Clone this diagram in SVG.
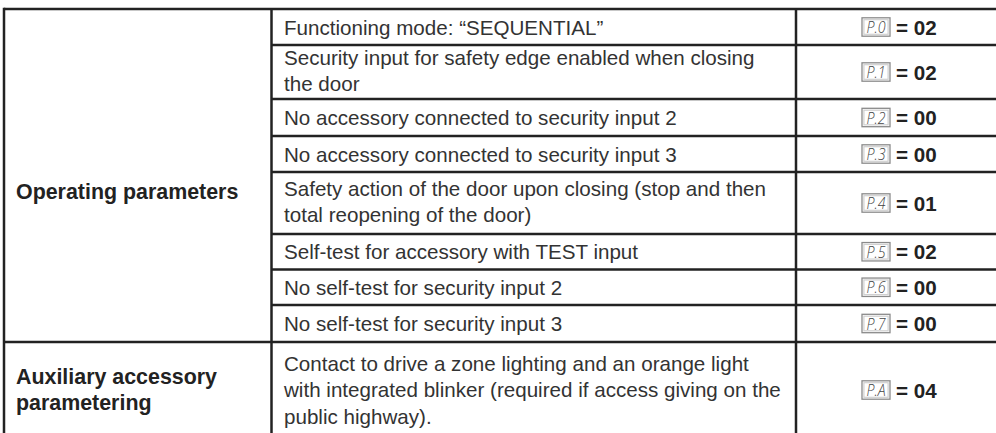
<svg xmlns="http://www.w3.org/2000/svg" width="996" height="433" viewBox="0 0 996 433">
<style>
.ln{stroke:#222;stroke-width:2.5;fill:none}
.t{font-family:"Liberation Sans",Arial,sans-serif;font-size:20.6px;fill:#333}
.b{font-family:"Liberation Sans",Arial,sans-serif;font-size:20.6px;font-weight:bold;fill:#222}
.bl{font-family:"Liberation Sans",Arial,sans-serif;font-size:21.4px;font-weight:bold;fill:#222}
.lcd{fill:#fff;stroke:#8a8a8a;stroke-width:1.3}
.lcdi{fill:none;stroke:#d0d0d0;stroke-width:1.2}
.lt{font-family:"Open Sans","DejaVu Sans",sans-serif;font-size:17px;font-weight:300;font-style:italic;fill:#444}
</style>
<defs>
<g id="box"><rect class="lcd" x="0" y="-9.2" width="28" height="18.4"/><rect class="lcdi" x="1.9" y="-7.3" width="24.2" height="14.6"/></g>
</defs>
<rect width="996" height="433" fill="#fff"/>
<g id="connectors">
<line class="ln" x1="4" y1="9" x2="996" y2="9"/>
<line class="ln" x1="4" y1="342" x2="996" y2="342"/>
<line class="ln" x1="4" y1="7.75" x2="4" y2="433"/>
<line class="ln" x1="271.5" y1="9" x2="271.5" y2="433"/>
<line class="ln" x1="796" y1="9" x2="796" y2="433"/>
<line class="ln" x1="271.5" y1="45" x2="996" y2="45"/>
<line class="ln" x1="271.5" y1="99" x2="996" y2="99"/>
<line class="ln" x1="271.5" y1="136" x2="996" y2="136"/>
<line class="ln" x1="271.5" y1="172" x2="996" y2="172"/>
<line class="ln" x1="271.5" y1="234" x2="996" y2="234"/>
<line class="ln" x1="271.5" y1="269.5" x2="996" y2="269.5"/>
<line class="ln" x1="271.5" y1="305" x2="996" y2="305"/>
</g>
<g id="group-operating">
<text class="bl" x="16" y="199">Operating parameters</text>
</g>
<g id="group-auxiliary">
<text class="bl" x="16" y="383.5">Auxiliary accessory</text>
<text class="bl" x="16" y="410">parametering</text>
</g>
<g id="row-p0">
<text class="t" x="284" y="34.5">Functioning mode: “SEQUENTIAL”</text>
<use href="#box" x="862" y="27"/><text class="lt" x="866.5" y="33" textLength="19" lengthAdjust="spacingAndGlyphs">P.0</text>
<text class="b" x="896" y="34.5">= 02</text>
</g>
<g id="row-p1">
<text class="t" x="284" y="65">Security input for safety edge enabled when closing</text>
<text class="t" x="284" y="91">the door</text>
<use href="#box" x="862" y="72"/><text class="lt" x="866.5" y="78" textLength="19" lengthAdjust="spacingAndGlyphs">P.1</text>
<text class="b" x="896" y="79.5">= 02</text>
</g>
<g id="row-p2">
<text class="t" x="284" y="125">No accessory connected to security input 2</text>
<use href="#box" x="862" y="117.5"/><text class="lt" x="866.5" y="123.5" textLength="19" lengthAdjust="spacingAndGlyphs">P.2</text>
<text class="b" x="896" y="125">= 00</text>
</g>
<g id="row-p3">
<text class="t" x="284" y="161.5">No accessory connected to security input 3</text>
<use href="#box" x="862" y="154"/><text class="lt" x="866.5" y="160" textLength="19" lengthAdjust="spacingAndGlyphs">P.3</text>
<text class="b" x="896" y="161.5">= 00</text>
</g>
<g id="row-p4">
<text class="t" x="284" y="196">Safety action of the door upon closing (stop and then</text>
<text class="t" x="284" y="222">total reopening of the door)</text>
<use href="#box" x="862" y="203"/><text class="lt" x="866.5" y="209" textLength="19" lengthAdjust="spacingAndGlyphs">P.4</text>
<text class="b" x="896" y="210.5">= 01</text>
</g>
<g id="row-p5">
<text class="t" x="284" y="259">Self-test for accessory with TEST input</text>
<use href="#box" x="862" y="251.75"/><text class="lt" x="866.5" y="257.75" textLength="19" lengthAdjust="spacingAndGlyphs">P.5</text>
<text class="b" x="896" y="259">= 02</text>
</g>
<g id="row-p6">
<text class="t" x="284" y="294.5">No self-test for security input 2</text>
<use href="#box" x="862" y="287.25"/><text class="lt" x="866.5" y="293.25" textLength="19" lengthAdjust="spacingAndGlyphs">P.6</text>
<text class="b" x="896" y="294.5">= 00</text>
</g>
<g id="row-p7">
<text class="t" x="284" y="331">No self-test for security input 3</text>
<use href="#box" x="862" y="323.5"/><text class="lt" x="866.5" y="329.5" textLength="19" lengthAdjust="spacingAndGlyphs">P.7</text>
<text class="b" x="896" y="331">= 00</text>
</g>
<g id="row-pa">
<text class="t" x="284" y="370.5">Contact to drive a zone lighting and an orange light</text>
<text class="t" x="284" y="397">with integrated blinker (required if access giving on the</text>
<text class="t" x="284" y="423.5">public highway).</text>
<use href="#box" x="862" y="390"/><text class="lt" x="866.5" y="396" textLength="19" lengthAdjust="spacingAndGlyphs">P.A</text>
<text class="b" x="896" y="397.5">= 04</text>
</g>
</svg>
